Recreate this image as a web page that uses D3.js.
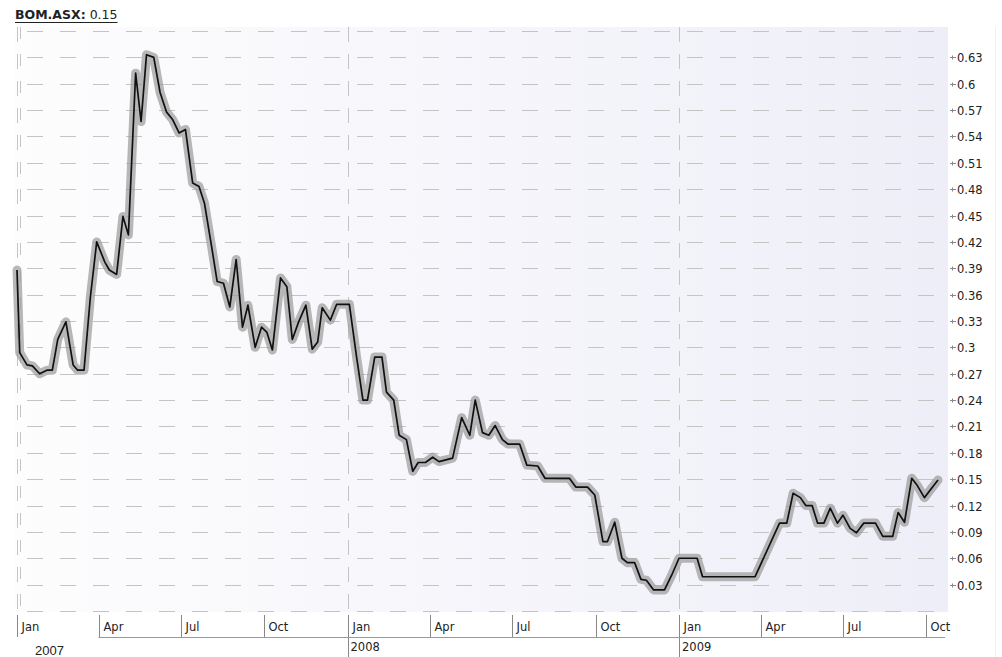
<!DOCTYPE html>
<html lang="en">
<head>
    <meta charset="UTF-8">
    <title>BOM.ASX</title>
    <script src="https://d3js.org/d3.v7.min.js"></script>
    <style>
        body { margin: 0; background: #fff; }
        text { font-family: "DejaVu Sans", Verdana, sans-serif; fill: #222; }
        .grid line { stroke: #c4c4c4; stroke-width: 1; }
    </style>
</head>
<body>
    <svg width="1002" height="657"></svg>

    <script>
        // weekly closing prices (turning points)
        const dates = [
            "2007-01-01","2007-01-04","2007-01-12","2007-01-18","2007-01-26","2007-02-03","2007-02-09","2007-02-15",
            "2007-02-24","2007-03-04","2007-03-09","2007-03-16","2007-03-23","2007-03-30","2007-04-08","2007-04-13",
            "2007-04-21","2007-04-28","2007-05-04","2007-05-12","2007-05-18","2007-05-24","2007-06-01","2007-06-08",
            "2007-06-15","2007-06-22","2007-06-29","2007-07-06","2007-07-14","2007-07-21","2007-07-27","2007-08-04",
            "2007-08-10","2007-08-17","2007-08-24","2007-08-31","2007-09-07","2007-09-13","2007-09-21","2007-09-28",
            "2007-10-04","2007-10-10","2007-10-19","2007-10-26","2007-11-01","2007-11-08","2007-11-16","2007-11-23",
            "2007-11-29","2007-12-04","2007-12-13","2007-12-20","2008-01-03","2008-01-11","2008-01-18","2008-01-23",
            "2008-01-31","2008-02-08","2008-02-13","2008-02-21","2008-02-27","2008-03-06","2008-03-13","2008-03-19",
            "2008-03-27","2008-04-04","2008-04-11","2008-04-26","2008-05-06","2008-05-15","2008-05-21","2008-05-29",
            "2008-06-05","2008-06-12","2008-06-20","2008-06-26","2008-07-09","2008-07-17","2008-07-29","2008-08-06",
            "2008-09-02","2008-09-09","2008-09-22","2008-09-30","2008-10-09","2008-10-14","2008-10-22","2008-10-30",
            "2008-11-05","2008-11-13","2008-11-20","2008-11-26","2008-12-04","2008-12-16","2008-12-24","2009-01-01",
            "2009-01-21","2009-01-27","2009-03-26","2009-04-22","2009-04-30","2009-05-07","2009-05-15","2009-05-21",
            "2009-05-28","2009-06-03","2009-06-10","2009-06-17","2009-06-25","2009-07-01","2009-07-09","2009-07-16",
            "2009-07-24","2009-08-06","2009-08-14","2009-08-25","2009-08-31","2009-09-07","2009-09-15","2009-09-21",
            "2009-09-29","2009-10-08","2009-10-14"
        ];
        const prices = [
            0.388, 0.294, 0.280, 0.279, 0.270, 0.274, 0.274, 0.309,
            0.329, 0.280, 0.274, 0.274, 0.357, 0.420, 0.397, 0.388,
            0.383, 0.449, 0.428, 0.612, 0.557, 0.633, 0.630, 0.590,
            0.568, 0.559, 0.544, 0.548, 0.487, 0.483, 0.464, 0.414,
            0.375, 0.373, 0.346, 0.400, 0.323, 0.348, 0.300, 0.323,
            0.317, 0.297, 0.379, 0.369, 0.309, 0.329, 0.348, 0.298,
            0.306, 0.345, 0.331, 0.349, 0.349, 0.289, 0.240, 0.240,
            0.289, 0.289, 0.249, 0.240, 0.200, 0.195, 0.159, 0.169,
            0.169, 0.175, 0.170, 0.174, 0.220, 0.200, 0.240, 0.203,
            0.200, 0.211, 0.195, 0.190, 0.190, 0.166, 0.165, 0.151,
            0.151, 0.141, 0.141, 0.132, 0.079, 0.079, 0.101, 0.060,
            0.055, 0.055, 0.036, 0.035, 0.024, 0.024, 0.041, 0.060,
            0.060, 0.039, 0.039, 0.100, 0.100, 0.134, 0.129, 0.120,
            0.120, 0.100, 0.100, 0.117, 0.100, 0.109, 0.094, 0.089,
            0.100, 0.100, 0.085, 0.085, 0.112, 0.101, 0.151, 0.143,
            0.129, 0.141, 0.149
        ];
        const yTicks = [0.03, 0.06, 0.09, 0.12, 0.15, 0.18, 0.21, 0.24, 0.27, 0.3, 0.33,
                        0.36, 0.39, 0.42, 0.45, 0.48, 0.51, 0.54, 0.57, 0.6, 0.63];
        const gridValues = d3.range(0, 23).map(i => +(i * 0.03).toFixed(2));
        const monthTicks = ["2007-01-01","2007-04-01","2007-07-01","2007-10-01","2008-01-01","2008-04-01",
                            "2008-07-01","2008-10-01","2009-01-01","2009-04-01","2009-07-01","2009-10-01"];
        const yearTicks = ["2007-01-01","2008-01-01","2009-01-01"];
        const title = "BOM.ASX:";
        const lastPrice = "0.15";

        const parse = d3.timeParse("%Y-%m-%d");
        const data = dates.map((d, i) => ({ date: parse(d), value: prices[i] }));

        const svg = d3.select("svg");
        const plot = { left: 15, right: 948, top: 27, bottom: 612 };

        const x = d3.scaleTime()
            .domain([parse("2007-01-01"), parse("2009-01-01")])
            .range([17, 679]);
        const y = d3.scaleLinear()
            .domain([0, 0.66])
            .range([611, 31]);

        // plot background
        const defs = svg.append("defs");
        const grad = defs.append("linearGradient").attr("id", "bg")
            .attr("x1", "0%").attr("x2", "100%").attr("y1", "0%").attr("y2", "0%");
        grad.append("stop").attr("offset", "0%").attr("stop-color", "#fdfdfe");
        grad.append("stop").attr("offset", "100%").attr("stop-color", "#eeeef8");
        svg.append("rect")
            .attr("x", plot.left).attr("y", plot.top)
            .attr("width", plot.right - plot.left).attr("height", plot.bottom - plot.top)
            .attr("fill", "url(#bg)");
        // faint right border of the widget
        svg.append("line").attr("x1", 995.5).attr("x2", 995.5).attr("y1", 27).attr("y2", 657)
            .attr("stroke", "#f0f0f0");

        // horizontal grid
        const grid = svg.append("g").attr("class", "grid");
        grid.selectAll(".h").data(gridValues).enter().append("line")
            .attr("x1", plot.left + 12).attr("x2", plot.right - 4)
            .attr("y1", d => Math.round(y(d)) + 0.5).attr("y2", d => Math.round(y(d)) + 0.5)
            .attr("stroke-dasharray", "16,17");

        // vertical grid at year starts
        grid.selectAll(".v").data(yearTicks).enter().append("line")
            .attr("x1", d => Math.round(x(parse(d))) + 0.5).attr("x2", d => Math.round(x(parse(d))) + 0.5)
            .attr("y1", plot.top).attr("y2", plot.bottom)
            .attr("stroke-dasharray", "15,12");
        grid.append("line")
            .attr("x1", 20.5).attr("x2", 20.5).attr("y1", plot.top).attr("y2", plot.bottom)
            .attr("stroke-dasharray", "12,15").attr("stroke", "#d4d4d4");

        // price line with halo
        const line = d3.line().x(d => x(d.date)).y(d => y(d.value));
        svg.append("path").datum(data)
            .attr("d", line).attr("fill", "none")
            .attr("stroke", "#9a9a9a").attr("stroke-opacity", 0.7)
            .attr("stroke-width", 9).attr("stroke-linejoin", "round").attr("stroke-linecap", "round");
        svg.append("path").datum(data)
            .attr("d", line).attr("fill", "none")
            .attr("stroke", "#111").attr("stroke-width", 1.7)
            .attr("stroke-linejoin", "round");

        // right axis
        const yAxis = svg.append("g");
        const tk = yAxis.selectAll("g").data(yTicks).enter().append("g")
            .attr("transform", d => `translate(0,${Math.round(y(d)) + 0.5})`);
        tk.append("line").attr("x1", 950).attr("x2", 956).attr("stroke", "#888");
        tk.append("line").attr("x1", 952.5).attr("x2", 952.5).attr("y1", -2).attr("y2", 2).attr("stroke", "#888");
        tk.append("text").attr("x", 957).attr("dy", "0.35em")
            .attr("font-size", 11.5).text(d => String(d));

        // bottom axis: months
        const xAxis = svg.append("g");
        const mt = xAxis.selectAll("g").data(monthTicks).enter().append("g")
            .attr("transform", d => `translate(${Math.round(x(parse(d))) + 0.5},0)`);
        mt.append("line").attr("y1", 615).attr("y2", d => yearTicks.includes(d) && d !== "2007-01-01" ? 657 : 637)
            .attr("stroke", "#888");
        mt.append("text").attr("x", 4).attr("y", 631).attr("font-size", 11.5)
            .text(d => d3.timeFormat("%b")(parse(d)));
        xAxis.append("line")
            .attr("x1", x(parse("2007-04-01"))).attr("x2", 945)
            .attr("y1", 637.5).attr("y2", 637.5).attr("stroke", "#999");

        // years
        xAxis.selectAll(".yr").data(yearTicks).enter().append("text")
            .attr("x", d => d === "2007-01-01" ? 35 : x(parse(d)) + 3)
            .attr("y", d => d === "2007-01-01" ? 655 : 651)
            .attr("font-size", d => d === "2007-01-01" ? 13 : 11.5)
            .style("font-family", d => d === "2007-01-01" ? "'Liberation Sans', Arial, sans-serif" : null)
            .text(d => d3.timeFormat("%Y")(parse(d)));

        // title
        const t = svg.append("text").attr("x", 15).attr("y", 19).attr("font-size", 12.5);
        t.append("tspan").attr("font-weight", "bold").text(title);
        t.append("tspan").text(" " + lastPrice);
        const bb = t.node().getBBox();
        svg.append("line").attr("x1", bb.x).attr("x2", bb.x + bb.width)
            .attr("y1", 22.5).attr("y2", 22.5).attr("stroke", "#222");
    </script>
</body>
</html>
